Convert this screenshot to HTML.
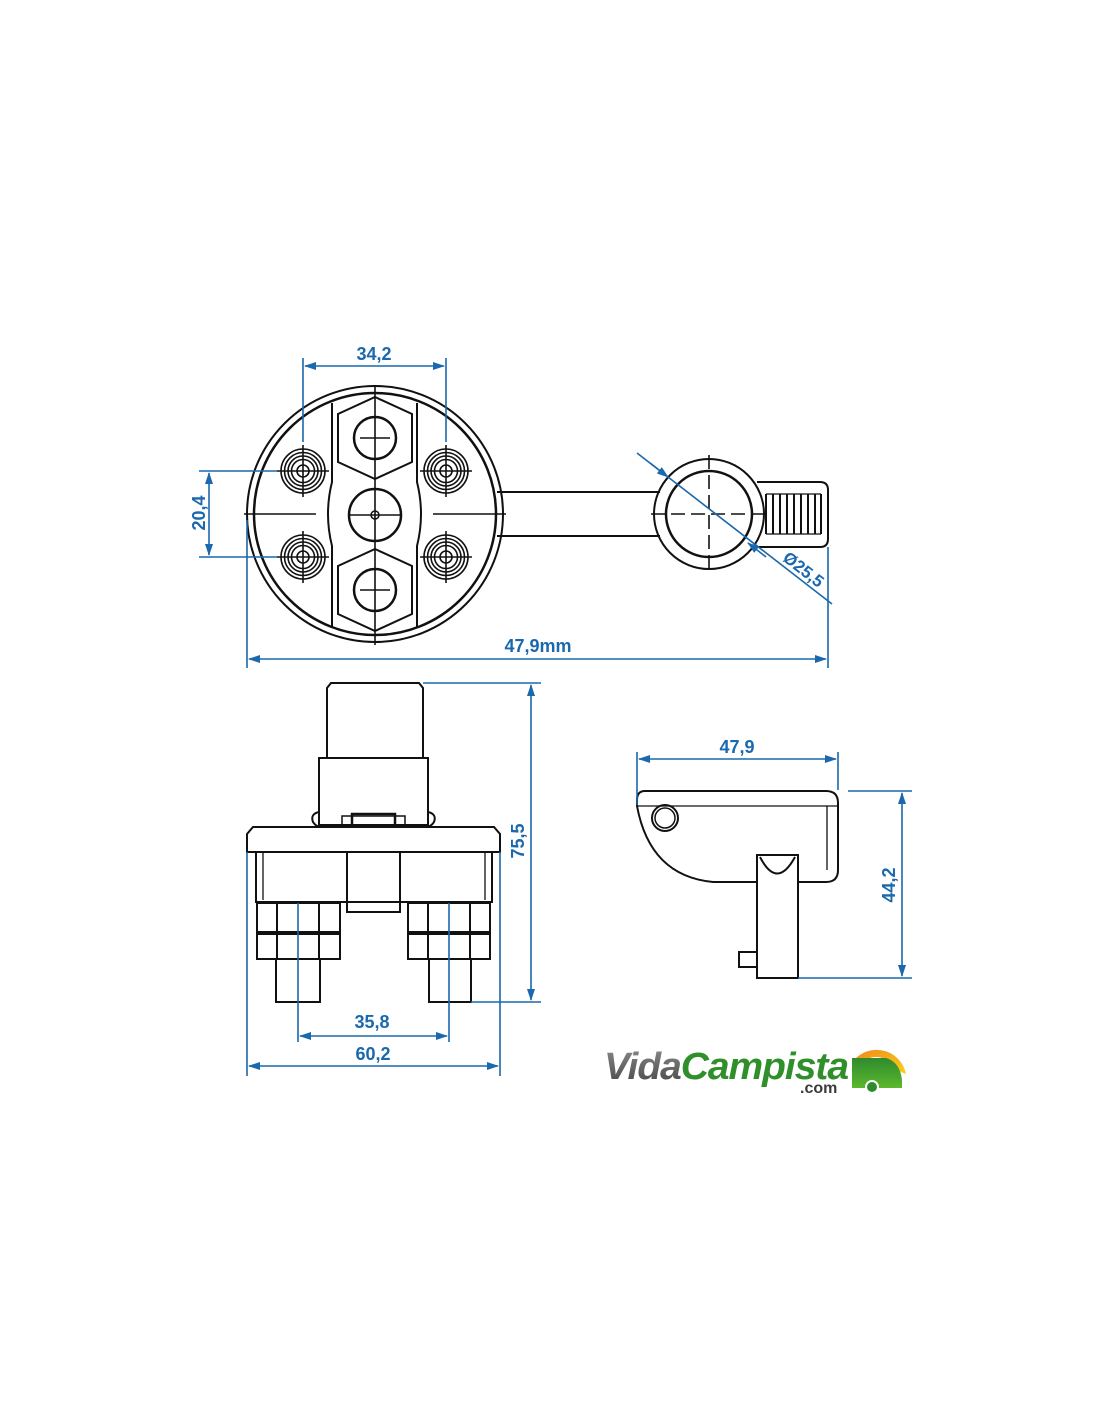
<!DOCTYPE html>
<html><head><meta charset="utf-8"><style>
html,body{margin:0;padding:0;background:#fff}
svg{display:block}
text{font-family:"Liberation Sans",sans-serif;font-weight:bold;fill:#1a68ad}
</style></head><body>
<svg width="1100" height="1422" viewBox="0 0 1100 1422" xmlns="http://www.w3.org/2000/svg">
<defs>
<marker id="a" markerWidth="12" markerHeight="8" refX="11" refY="4" orient="auto-start-reverse" markerUnits="userSpaceOnUse"><path d="M0,0 L12,4 L0,8 Z" fill="#1a68ad"/></marker>
<linearGradient id="sun" x1="0" y1="0" x2="1" y2="1"><stop offset="0" stop-color="#f08a1c"/><stop offset="1" stop-color="#f7d21a"/></linearGradient>
<linearGradient id="grn" x1="0" y1="0" x2="0" y2="1"><stop offset="0" stop-color="#2e8b2e"/><stop offset="1" stop-color="#5cb82c"/></linearGradient>
<linearGradient id="gry" x1="0" y1="0" x2="0" y2="1"><stop offset="0" stop-color="#8a8a8a"/><stop offset="1" stop-color="#444"/></linearGradient>
</defs>

<!-- ========== TOP VIEW ========== -->
<g fill="none" stroke="#111" stroke-width="2">
<circle cx="375" cy="514" r="128"/>
<circle cx="375" cy="514" r="121" stroke-width="2.5"/>
<path d="M332,403 V482 Q324,514 332,546 V627" />
<path d="M417,403 V482 Q425,514 417,546 V627" />
<path d="M375,397 L412,414 V462 L375,479 L338,462 V414 Z" />
<circle cx="375" cy="438" r="21" stroke-width="2.5"/>
<path d="M375,549 L412,566 V614 L375,631 L338,614 V566 Z" />
<circle cx="375" cy="590" r="21" stroke-width="2.5"/>
<circle cx="375" cy="515" r="26" stroke-width="2.5"/>
<circle cx="375" cy="515" r="4" stroke-width="1.5"/>
<path d="M497,492 H660 M497,536 H660"/>
<circle cx="709" cy="514" r="55"/>
<circle cx="709" cy="514" r="43" stroke-width="2.5"/>
<path d="M757,482 H820 Q828,482 828,490 V539 Q828,547 820,547 H757"/>
</g>
<g fill="none" stroke="#111" stroke-width="1.6">
<g id="bolt"><circle cx="303" cy="471" r="22"/><circle cx="303" cy="471" r="18.5"/><circle cx="303" cy="471" r="15"/><circle cx="303" cy="471" r="11.5"/><circle cx="303" cy="471" r="6"/><path d="M277,471 H329 M303,445 V497"/></g>
<use href="#bolt" x="143"/><use href="#bolt" y="86"/><use href="#bolt" x="143" y="86"/>
<path d="M375,385 V645 M244,514 H316 M433,514 H506 M350,515 H400 M360,438 H390 M360,590 H390"/>
<path d="M651,514 H770 M709,455 V572" stroke-dasharray="14 6"/>
<g stroke-width="2"><path d="M766,494 V534 M773,494 V534 M780,494 V534 M787,494 V534 M794,494 V534 M801,494 V534 M808,494 V534 M815,494 V534 M821,494 V534"/><path d="M766,494 H821 M766,534 H821" stroke-width="1.3"/></g>
</g>

<g stroke="#1a68ad" stroke-width="1.6" fill="none">
<path d="M303,358 V442 M446,358 V442"/>
<line x1="305" y1="366" x2="444" y2="366" marker-start="url(#a)" marker-end="url(#a)"/>
<path d="M199,471 H277 M199,557 H277"/>
<line x1="209" y1="473" x2="209" y2="555" marker-start="url(#a)" marker-end="url(#a)"/>
<path d="M247,520 V668 M828,547 V668"/>
<line x1="249" y1="659" x2="826" y2="659" marker-start="url(#a)" marker-end="url(#a)"/>
<line x1="637" y1="453" x2="832" y2="604"/>
<line x1="650" y1="463" x2="668" y2="477" marker-end="url(#a)"/>
<line x1="766" y1="557" x2="748" y2="543" marker-end="url(#a)"/>
</g>
<text x="374" y="360" font-size="18" text-anchor="middle">34,2</text>
<text transform="translate(205,513) rotate(-90)" font-size="18" text-anchor="middle">20,4</text>
<text x="538" y="652" font-size="18" text-anchor="middle">47,9mm</text>
<text transform="translate(800,574) rotate(38)" font-size="17" text-anchor="middle">Ø25,5</text>

<!-- ========== FRONT VIEW ========== -->
<g fill="none" stroke="#111" stroke-width="2">
<path d="M327,758 V688 L331,683 H419 L423,688 V758"/>
<rect x="319" y="758" width="109" height="67"/>
<path d="M319,812 Q310,814 313,822 Q316,827 322,827 M428,812 Q437,814 434,822 Q431,827 425,827"/>
<rect x="342" y="816" width="63" height="9" stroke-width="1.5"/>
<rect x="352" y="814" width="43" height="12" stroke-width="2.5"/>
<path d="M247,852 V834 L253,827 H494 L500,834 V852 Z"/>
<rect x="256" y="852" width="236" height="50"/>
<path d="M263,852 V900 M485,852 V900" stroke-width="1.3"/>
<path d="M347,852 V912 H400 V852"/>
<rect x="257" y="903" width="83" height="29"/>
<rect x="257" y="934" width="83" height="25"/>
<path d="M277,903 V959 M319,903 V959" />
<rect x="408" y="903" width="82" height="29"/>
<rect x="408" y="934" width="82" height="25"/>
<path d="M428,903 V959 M470,903 V959" />
<path d="M276,959 V1002 H320 V959 M429,959 V1002 H471 V959"/>
</g>
<g stroke="#1a68ad" stroke-width="1.6" fill="none">
<path d="M298,903 V1042 M449,903 V1042"/>
<line x1="300" y1="1036" x2="447" y2="1036" marker-start="url(#a)" marker-end="url(#a)"/>
<path d="M247,852 V1076 M500,852 V1076"/>
<line x1="249" y1="1066" x2="498" y2="1066" marker-start="url(#a)" marker-end="url(#a)"/>
<path d="M423,683 H541 M471,1002 H541"/>
<line x1="531" y1="685" x2="531" y2="1000" marker-start="url(#a)" marker-end="url(#a)"/>
</g>
<text x="372" y="1028" font-size="18" text-anchor="middle">35,8</text>
<text x="373" y="1060" font-size="18" text-anchor="middle">60,2</text>
<text transform="translate(524,841) rotate(-90)" font-size="18" text-anchor="middle">75,5</text>

<!-- ========== SIDE VIEW ========== -->
<g fill="none" stroke="#111" stroke-width="2">
<path d="M645,791 H826 Q838,791 838,803 V870 Q838,882 826,882 H713 Q650,876 637,806 V800 Q637,791 645,791 Z"/>
<path d="M637,806 H838 M827,806 V870" stroke-width="1.3"/>
<circle cx="665" cy="818" r="13"/>
<circle cx="665" cy="818" r="10" stroke-width="1.5"/>
<path d="M757,978 V855 H798 V978 Z" fill="#fff"/>
<path d="M760,857 Q777,890 795,857" />
<rect x="739" y="952" width="18" height="15" fill="#fff"/>
</g>
<g stroke="#1a68ad" stroke-width="1.6" fill="none">
<path d="M637,752 V805 M838,752 V790"/>
<line x1="639" y1="759" x2="836" y2="759" marker-start="url(#a)" marker-end="url(#a)"/>
<path d="M848,791 H912 M798,978 H912"/>
<line x1="902" y1="793" x2="902" y2="976" marker-start="url(#a)" marker-end="url(#a)"/>
</g>
<text x="737" y="753" font-size="18" text-anchor="middle">47,9</text>
<text transform="translate(895,885) rotate(-90)" font-size="18" text-anchor="middle">44,2</text>

<!-- ========== LOGO ========== -->
<text x="604" y="1079" font-size="38" font-style="italic" textLength="244" lengthAdjust="spacingAndGlyphs" style="font-weight:bold;letter-spacing:-1px"><tspan fill="url(#gry)">Vida</tspan><tspan fill="#2f8f2a">Campista</tspan></text>
<text x="800" y="1093" font-size="16" style="fill:#3a3a3a">.com</text>
<path d="M856,1058 A30,30 0 0 1 906,1074 L896,1070 A22,22 0 0 0 862,1062 Z" fill="url(#sun)"/>
<path d="M852,1058 H886 Q900,1062 902,1080 V1088 H852 Z" fill="url(#grn)"/>
<circle cx="872" cy="1087" r="7" fill="#fff"/>
<circle cx="872" cy="1087" r="5" fill="#2e8b2e"/>
</svg>
</body></html>
